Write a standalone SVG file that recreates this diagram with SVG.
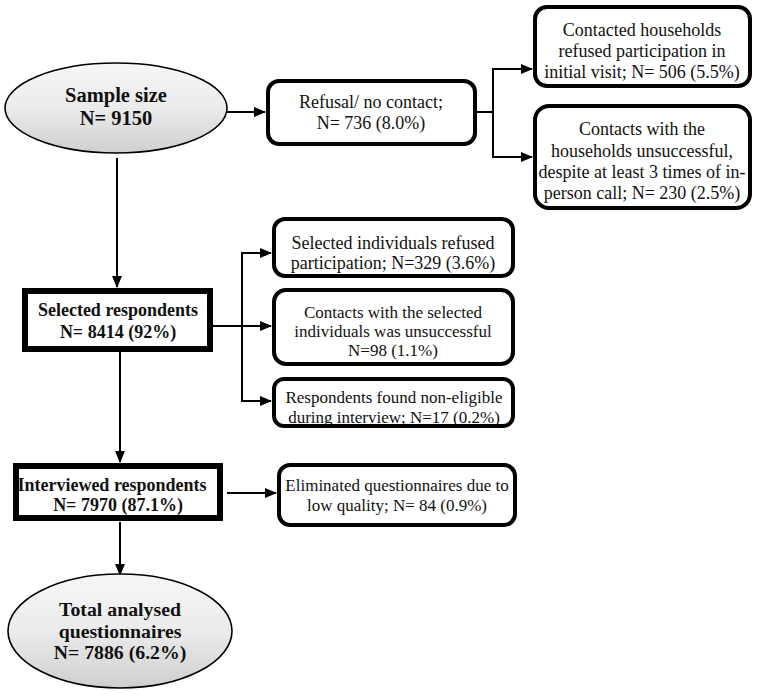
<svg xmlns="http://www.w3.org/2000/svg" width="760" height="695" viewBox="0 0 760 695">
<defs>
<linearGradient id="ellFill" x1="0" y1="0" x2="0" y2="1">
<stop offset="0" stop-color="#f7f7f7"/>
<stop offset="0.5" stop-color="#ebebeb"/>
<stop offset="1" stop-color="#cfcfcf"/>
</linearGradient>
<marker id="arr" markerUnits="userSpaceOnUse" markerWidth="12" markerHeight="10" refX="11" refY="5" orient="auto">
<path d="M0,0 L12,5 L0,10 Z" fill="#000"/>
</marker>
</defs>
<style>
.ell{fill:url(#ellFill);stroke:#000;stroke-width:1.6}
.rbox{fill:#fff;stroke:#000;stroke-width:4}
.sbox{fill:#fff;stroke:#000;stroke-width:6}
.t{font-family:"Liberation Serif","Times New Roman",serif;font-size:18px;fill:#111;text-anchor:middle}
.s{font-size:17px}
.b{font-family:"Liberation Serif","Times New Roman",serif;font-weight:bold;font-size:18px;fill:#111;text-anchor:middle}
.be{font-size:20.5px}
.bt{font-size:19.8px}
.c{fill:none;stroke:#000;stroke-width:2}
</style>
<rect width="760" height="695" fill="#fff"/>
<g id="connectors">
<line class="c" x1="227" y1="112" x2="265" y2="112" marker-end="url(#arr)"/>
<line class="c" x1="475" y1="112" x2="493" y2="112"/>
<line class="c" x1="493" y1="69" x2="493" y2="157"/>
<line class="c" x1="492" y1="69" x2="532" y2="69" marker-end="url(#arr)"/>
<line class="c" x1="492" y1="157" x2="532" y2="157" marker-end="url(#arr)"/>
<line class="c" x1="117" y1="158" x2="117" y2="287" marker-end="url(#arr)"/>
<line class="c" x1="213" y1="326" x2="271" y2="326" marker-end="url(#arr)"/>
<line class="c" x1="242" y1="252" x2="242" y2="402"/>
<line class="c" x1="241" y1="253" x2="271" y2="253" marker-end="url(#arr)"/>
<line class="c" x1="241" y1="401" x2="271" y2="401" marker-end="url(#arr)"/>
<line class="c" x1="120" y1="352" x2="120" y2="462" marker-end="url(#arr)"/>
<line class="c" x1="227" y1="493" x2="276" y2="493" marker-end="url(#arr)"/>
<line class="c" x1="120" y1="522" x2="120" y2="575" marker-end="url(#arr)"/>
</g>
<g id="sample">
<ellipse class="ell" cx="116" cy="108" rx="111" ry="45"/>
<text class="b be" x="116" y="102">Sample size</text>
<text class="b be" x="116" y="125">N= 9150</text>
</g>
<g id="refusal">
<rect class="rbox" x="268" y="81" width="207" height="63" rx="11"/>
<text class="t" x="371" y="108">Refusal/ no contact;</text>
<text class="t" x="371" y="129">N= 736 (8.0%)</text>
</g>
<g id="hh-refused">
<rect class="rbox" x="535" y="7" width="215" height="79" rx="12"/>
<text class="t" x="642" y="36">Contacted households</text>
<text class="t" x="642" y="57">refused participation in</text>
<text class="t" x="642" y="78">initial visit; N= 506 (5.5%)</text>
</g>
<g id="hh-unsuccessful">
<rect class="rbox" x="535" y="106" width="215" height="102" rx="14"/>
<text class="t" x="642" y="135">Contacts with the</text>
<text class="t" x="642" y="157">households unsuccessful,</text>
<text class="t" x="642" y="178">despite at least 3 times of in-</text>
<text class="t" x="642" y="199">person call; N= 230 (2.5%)</text>
</g>
<g id="selected">
<rect class="sbox" x="25" y="291" width="185" height="58"/>
<text class="b" x="118" y="316">Selected respondents</text>
<text class="b" x="118" y="338">N= 8414 (92%)</text>
</g>
<g id="ind-refused">
<rect class="rbox" x="274" y="219" width="239" height="57" rx="11"/>
<text class="t" x="393" y="249">Selected individuals refused</text>
<text class="t" x="393" y="269">participation; N=329 (3.6%)</text>
</g>
<g id="ind-unsuccessful">
<rect class="rbox" x="274" y="290" width="239" height="74" rx="12"/>
<text class="t s" x="393" y="318">Contacts with the selected</text>
<text class="t s" x="393" y="337">individuals was unsuccessful</text>
<text class="t s" x="393" y="356">N=98 (1.1%)</text>
</g>
<g id="non-eligible">
<rect class="rbox" x="274" y="379" width="239" height="47" rx="10"/>
<text class="t s" x="394" y="403">Respondents found non-eligible</text>
<text class="t s" x="394" y="423">during interview; N=17 (0.2%)</text>
</g>
<g id="interviewed">
<rect class="sbox" x="16" y="466" width="204" height="52"/>
<text class="b" x="112" y="491">Interviewed respondents</text>
<text class="b" x="118" y="511">N= 7970 (87.1%)</text>
</g>
<g id="eliminated">
<rect class="rbox" x="279" y="465" width="236" height="60" rx="11"/>
<text class="t s" x="397" y="491">Eliminated questionnaires due to</text>
<text class="t s" x="397" y="511">low quality; N= 84 (0.9%)</text>
</g>
<g id="total">
<ellipse class="ell" cx="120" cy="631" rx="112" ry="57"/>
<text class="b bt" x="120" y="616">Total analysed</text>
<text class="b bt" x="120" y="638">questionnaires</text>
<text class="b bt" x="120" y="659">N= 7886 (6.2%)</text>
</g>
</svg>
